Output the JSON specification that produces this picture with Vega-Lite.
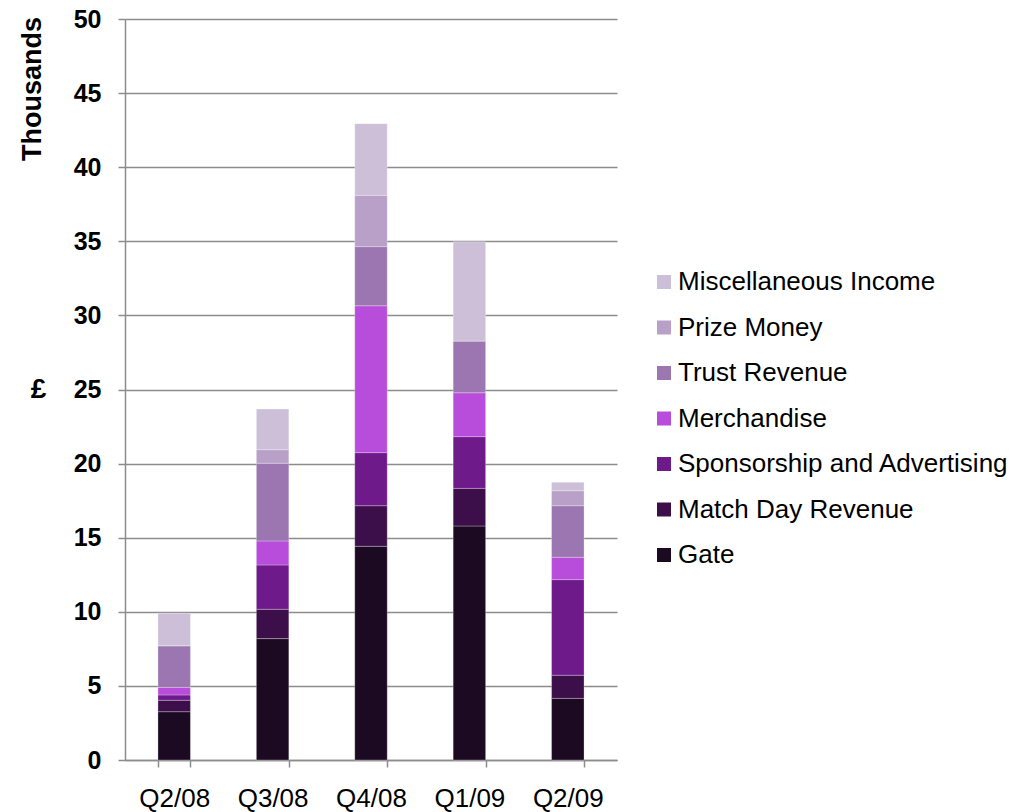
{
  "$schema": "https://vega.github.io/schema/vega-lite/v6.json",
  "autosize": "none",
  "width": 492,
  "height": 741,
  "padding": {"left": 125, "top": 19, "right": 399, "bottom": 52},
  "background": "white",
  "title": {"text": "Thousands", "orient": "left", "anchor": "end", "fontSize": 27, "fontWeight": "bold", "font": "Liberation Sans", "color": "#000000", "offset": -17, "dx": -10},
  "data": {"values": [
    {"quarter": "Q2/08", "category": "Gate", "idx": 1, "value": 3.26},
    {"quarter": "Q2/08", "category": "Match Day Revenue", "idx": 2, "value": 0.77},
    {"quarter": "Q2/08", "category": "Sponsorship and Advertising", "idx": 3, "value": 0.36},
    {"quarter": "Q2/08", "category": "Merchandise", "idx": 4, "value": 0.51},
    {"quarter": "Q2/08", "category": "Trust Revenue", "idx": 5, "value": 2.81},
    {"quarter": "Q2/08", "category": "Prize Money", "idx": 6, "value": 0},
    {"quarter": "Q2/08", "category": "Miscellaneous Income", "idx": 7, "value": 2.19},
    {"quarter": "Q3/08", "category": "Gate", "idx": 1, "value": 8.19},
    {"quarter": "Q3/08", "category": "Match Day Revenue", "idx": 2, "value": 1.98},
    {"quarter": "Q3/08", "category": "Sponsorship and Advertising", "idx": 3, "value": 2.99},
    {"quarter": "Q3/08", "category": "Merchandise", "idx": 4, "value": 1.62},
    {"quarter": "Q3/08", "category": "Trust Revenue", "idx": 5, "value": 5.24},
    {"quarter": "Q3/08", "category": "Prize Money", "idx": 6, "value": 0.92},
    {"quarter": "Q3/08", "category": "Miscellaneous Income", "idx": 7, "value": 2.74},
    {"quarter": "Q4/08", "category": "Gate", "idx": 1, "value": 14.42},
    {"quarter": "Q4/08", "category": "Match Day Revenue", "idx": 2, "value": 2.74},
    {"quarter": "Q4/08", "category": "Sponsorship and Advertising", "idx": 3, "value": 3.58},
    {"quarter": "Q4/08", "category": "Merchandise", "idx": 4, "value": 9.91},
    {"quarter": "Q4/08", "category": "Trust Revenue", "idx": 5, "value": 3.99},
    {"quarter": "Q4/08", "category": "Prize Money", "idx": 6, "value": 3.46},
    {"quarter": "Q4/08", "category": "Miscellaneous Income", "idx": 7, "value": 4.84},
    {"quarter": "Q1/09", "category": "Gate", "idx": 1, "value": 15.79},
    {"quarter": "Q1/09", "category": "Match Day Revenue", "idx": 2, "value": 2.54},
    {"quarter": "Q1/09", "category": "Sponsorship and Advertising", "idx": 3, "value": 3.49},
    {"quarter": "Q1/09", "category": "Merchandise", "idx": 4, "value": 2.96},
    {"quarter": "Q1/09", "category": "Trust Revenue", "idx": 5, "value": 3.49},
    {"quarter": "Q1/09", "category": "Prize Money", "idx": 6, "value": 0},
    {"quarter": "Q1/09", "category": "Miscellaneous Income", "idx": 7, "value": 6.70},
    {"quarter": "Q2/09", "category": "Gate", "idx": 1, "value": 4.16},
    {"quarter": "Q2/09", "category": "Match Day Revenue", "idx": 2, "value": 1.56},
    {"quarter": "Q2/09", "category": "Sponsorship and Advertising", "idx": 3, "value": 6.45},
    {"quarter": "Q2/09", "category": "Merchandise", "idx": 4, "value": 1.51},
    {"quarter": "Q2/09", "category": "Trust Revenue", "idx": 5, "value": 3.48},
    {"quarter": "Q2/09", "category": "Prize Money", "idx": 6, "value": 1.01},
    {"quarter": "Q2/09", "category": "Miscellaneous Income", "idx": 7, "value": 0.57}
  ]},
  "mark": {"type": "bar", "stroke": "#ffffff", "strokeOpacity": 0.35, "strokeWidth": 0.8},
  "encoding": {
    "x": {
      "field": "quarter", "type": "nominal", "sort": null,
      "scale": {"paddingInner": 0.67, "paddingOuter": 0.335},
      "axis": {"title": null, "labelAngle": 0, "labelFontSize": 26, "labelFont": "Liberation Sans", "labelColor": "#000000",
               "labelPadding": 18, "tickBand": "extent", "tickSize": 7, "tickColor": "#8c8c8c", "tickWidth": 1.5,
               "domainColor": "#8c8c8c", "domainWidth": 1.5, "grid": false}
    },
    "y": {
      "field": "value", "type": "quantitative", "stack": "zero",
      "scale": {"domain": [0, 50], "nice": false},
      "axis": {"title": "£", "titleAngle": 0, "titleFontSize": 28, "titleFontWeight": "bold", "titleFont": "Liberation Sans",
               "titleColor": "#000000", "titleX": -87, "titleY": 370, "titleAlign": "center", "titleBaseline": "middle",
               "values": [0, 5, 10, 15, 20, 25, 30, 35, 40, 45, 50],
               "labelFontSize": 25, "labelFontWeight": "bold", "labelFont": "Liberation Sans", "labelColor": "#000000",
               "labelPadding": 17, "tickSize": 7, "tickColor": "#8c8c8c", "tickWidth": 1.5,
               "domainColor": "#8c8c8c", "domainWidth": 1.5,
               "grid": true, "gridColor": "#8c8c8c", "gridWidth": 1.5}
    },
    "color": {
      "field": "category", "type": "nominal",
      "scale": {
        "domain": ["Miscellaneous Income", "Prize Money", "Trust Revenue", "Merchandise", "Sponsorship and Advertising", "Match Day Revenue", "Gate"],
        "range": ["#cdbfd8", "#b9a0c8", "#9b76b0", "#b84ddb", "#6e1a8a", "#3c0f4a", "#1c0a22"]
      },
      "legend": {"title": null, "orient": "none", "legendX": 526, "legendY": 250,
                 "symbolType": "square", "symbolSize": 196, "symbolStrokeWidth": 0, "symbolOpacity": 1,
                 "labelFontSize": 26, "labelFont": "Liberation Sans", "labelColor": "#000000", "labelOffset": 1,
                 "rowPadding": 19.5, "labelLimit": 400}
    },
    "order": {"field": "idx", "type": "quantitative", "sort": "ascending"}
  },
  "config": {"view": {"stroke": null}}
}
